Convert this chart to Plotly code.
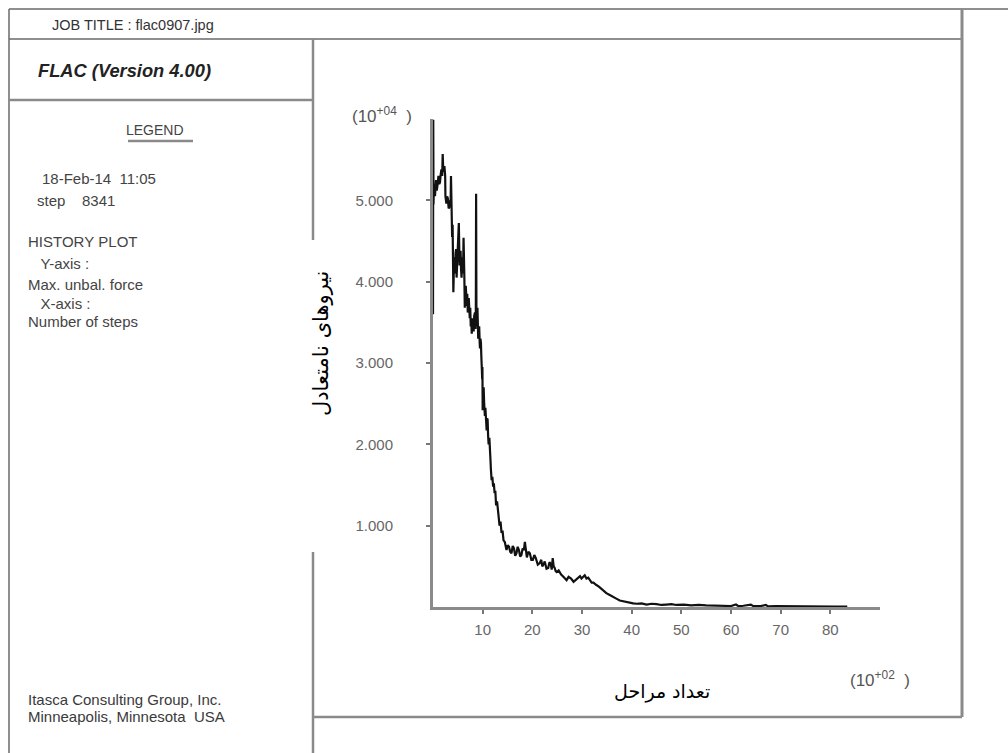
import plotly.graph_objects as go

W, H = 1008, 753

# History record: number of steps (x 10^2) against max. unbalanced force (x 10^4)
steps = [0.0, 0.05, 0.10, 0.20, 0.30, 0.40, 0.60, 0.75, 0.90, 1.10, 1.25, 1.40, 1.55, 1.70,
         1.85, 1.95, 2.05, 2.10, 2.30, 2.45, 2.50, 2.70, 2.85, 3.00, 3.15, 3.30, 3.45, 3.55,
         3.62, 3.70, 3.85, 3.95, 4.00, 4.10, 4.25, 4.35, 4.45, 4.55, 4.65, 4.75, 4.85, 4.95,
         5.05, 5.20, 5.35, 5.45, 5.55, 5.65, 5.75, 5.85, 5.95, 6.05, 6.15, 6.30, 6.40, 6.50,
         6.60, 6.70, 6.80, 6.90, 7.00, 7.10, 7.20, 7.30, 7.40, 7.50, 7.60, 7.70, 7.80, 7.90,
         8.00, 8.10, 8.20, 8.30, 8.45, 8.55, 8.62, 8.68, 8.75, 8.85, 8.95, 9.05, 9.10, 9.20,
         9.30, 9.40, 9.46, 9.55, 9.65, 9.72, 9.80, 9.85, 9.90, 9.95, 10.00, 10.10, 10.20,
         10.30, 10.45, 10.55, 10.65, 10.80, 10.90, 11.00, 11.10, 11.20, 11.35, 11.50, 11.58,
         11.65, 11.72, 11.80, 11.95, 12.10, 12.25, 12.40, 12.55, 12.70, 12.90, 13.10, 13.25,
         13.40, 13.60, 13.80, 14.00, 14.20, 14.45, 14.80, 15.05, 15.30, 15.55, 15.80, 16.05,
         16.30, 16.55, 16.80, 17.05, 17.30, 17.55, 17.80, 18.05, 18.30, 18.50, 18.70, 18.90,
         19.20, 19.50, 19.80, 20.10, 20.40, 20.70, 21.10, 21.50, 21.80, 22.00, 22.30, 22.50,
         22.85, 23.20, 23.45, 23.70, 23.90, 24.10, 24.30, 24.50, 24.70, 24.90, 25.30, 25.80,
         26.30, 26.90, 27.30, 27.80, 28.30, 28.90, 29.30, 29.60, 29.90, 30.20, 30.55, 30.90,
         31.25, 31.60, 31.95, 32.30, 32.60, 32.90, 33.40, 33.90, 34.40, 34.90, 35.50, 36.00,
         36.50, 37.00, 37.60, 38.30, 38.90, 39.60, 40.30, 41.00, 42.00, 43.00, 44.00, 45.00,
         46.00, 47.00, 48.00, 49.00, 50.50, 52.00, 53.50, 55.00, 56.50, 58.00, 59.00, 60.00,
         61.00, 61.50, 62.50, 64.00, 64.50, 66.00, 67.00, 67.50, 69.00, 71.00, 73.00, 75.00,
         77.00, 79.00, 81.00, 83.41]
unbal_force = [3.60, 5.99, 4.95, 5.20, 5.10, 5.05, 5.25, 5.12, 5.18, 5.30, 5.20, 5.22, 5.32, 5.38,
               5.30, 5.57, 5.40, 5.35, 5.42, 5.30, 5.05, 4.96, 5.05, 5.02, 4.90, 4.92, 5.00, 4.98,
               5.30, 4.85, 4.55, 4.70, 4.26, 3.87, 4.30, 4.15, 4.10, 4.35, 4.40, 4.05, 4.18, 4.30,
               4.35, 4.72, 4.20, 4.32, 4.38, 4.15, 4.05, 4.25, 4.30, 4.10, 4.54, 4.10, 3.68, 3.85,
               3.95, 3.75, 3.70, 3.85, 3.62, 3.72, 3.80, 3.60, 3.55, 3.68, 3.45, 3.55, 3.36, 3.48,
               3.55, 3.40, 3.40, 3.58, 3.62, 3.42, 3.50, 5.08, 3.45, 3.60, 3.68, 3.40, 3.30, 3.42,
               3.45, 3.25, 3.18, 3.30, 3.25, 3.10, 3.03, 2.90, 2.80, 2.95, 2.42, 2.60, 2.70,
               2.50, 2.35, 2.45, 2.25, 2.17, 2.32, 2.30, 2.10, 2.00, 2.08, 1.96, 1.80,
               1.70, 1.62, 1.56, 1.60, 1.48, 1.52, 1.40, 1.43, 1.25, 1.30, 1.19, 1.12,
               1.00, 1.05, 0.91, 0.94, 0.82, 0.80, 0.70, 0.76, 0.74, 0.68, 0.66, 0.75,
               0.72, 0.63, 0.66, 0.74, 0.70, 0.62, 0.64, 0.72, 0.70, 0.80, 0.66, 0.61,
               0.68, 0.66, 0.58, 0.58, 0.64, 0.60, 0.52, 0.54, 0.58, 0.50, 0.53, 0.56,
               0.47, 0.48, 0.55, 0.53, 0.46, 0.60, 0.50, 0.48, 0.44, 0.43, 0.45, 0.40,
               0.37, 0.33, 0.37, 0.35, 0.31, 0.34, 0.37, 0.38, 0.35, 0.37, 0.39, 0.35,
               0.36, 0.33, 0.30, 0.30, 0.28, 0.27, 0.25, 0.22, 0.20, 0.17, 0.15, 0.13,
               0.11, 0.10, 0.08, 0.07, 0.06, 0.05, 0.045, 0.04, 0.045, 0.03, 0.04, 0.035,
               0.025, 0.03, 0.035, 0.025, 0.03, 0.02, 0.025, 0.02, 0.02, 0.015, 0.02, 0.012,
               0.03, 0.01, 0.015, 0.03, 0.01, 0.012, 0.025, 0.008, 0.01, 0.008, 0.01, 0.006,
               0.008, 0.005, 0.006, 0.005]

x_ticks = [10, 20, 30, 40, 50, 60, 70, 80]
y_ticks = [1, 2, 3, 4, 5]
y_tick_text = ["1.000", "2.000", "3.000", "4.000", "5.000"]

legend_lines = ["18-Feb-14  11:05", "step    8341", "", "HISTORY PLOT", "   Y-axis :",
                "Max. unbal. force", "   X-axis :", "Number of steps"]


def px(x):
    return x / W


def py(y):
    return 1 - y / H


TXT = "Liberation Sans, Arial, sans-serif"
FRAME = "#8a8a8a"

fig = go.Figure()
fig.add_trace(go.Scatter(x=steps, y=unbal_force, mode="lines",
                         line=dict(color="#111111", width=2.2), showlegend=False,
                         hoverinfo="skip"))

# frame of the plot sheet
frame_lines = [
    # (x0, y0, x1, y1, colour, width)
    (9, 9, 1008, 9, "#6a6a6a", 1.5),
    (9, 39, 962, 39, "#6a6a6a", 1.5),
    (9, 9, 9, 753, "#6a6a6a", 1.5),
    (9, 100, 313, 100, FRAME, 2.5),
    (313, 39, 313, 240, FRAME, 2.5),
    (313, 552, 313, 753, FRAME, 2.5),
    (962, 9, 962, 717, FRAME, 3),
    (313, 717, 962, 717, FRAME, 2.5),
    (128, 141, 193, 141, FRAME, 2.5),
]
shapes = []
for x0, y0, x1, y1, c, w in frame_lines:
    shapes.append(dict(type="line", xref="paper", yref="paper",
                       x0=px(x0), y0=py(y0), x1=px(x1), y1=py(y1),
                       line=dict(color=c, width=w)))

ann = []


def label(x, y, text, size=15, color="#3c3c3c", anchor="left", family=TXT, **kw):
    ann.append(dict(x=px(x), y=py(y), xref="paper", yref="paper", text=text,
                    showarrow=False, xanchor=anchor, yanchor="middle",
                    font=dict(family=family, size=size, color=color), **kw))


label(50, 25, "JOB TITLE : flac0907.jpg", size=14.5, color="#333333")
label(36, 70, "<b><i>FLAC (Version 4.00)</i></b>", size=18.3, color="#222222")
label(155, 130, "LEGEND", size=14, color="#444444", anchor="center")
ly = [178, 200, 221, 242, 263, 284, 303, 321]
lx = [40, 35, 26, 26, 26, 26, 26, 26]
for t, x, y in zip(legend_lines, lx, ly):
    if t:
        label(x, y, t.replace(" ", "&nbsp;"), size=15, color="#444444")
label(26, 699, "Itasca Consulting Group, Inc.", size=15, color="#3a3a3a")
label(26, 716, "Minneapolis, Minnesota  USA", size=15, color="#3a3a3a")

# exponent markers of the axes
label(350, 115, "(10<sup>+04</sup>&nbsp;&nbsp;)", size=17, color="#555555")
label(848, 679, "(10<sup>+02</sup>&nbsp;&nbsp;)", size=17, color="#555555")

# axis titles
label(662, 691, "تعداد مراحل", size=19, color="#000000", anchor="center",
      family="DejaVu Sans")
ann.append(dict(x=px(321), y=py(344), xref="paper", yref="paper",
                text="نیروهای نامتعادل", showarrow=False, textangle=-90,
                xanchor="center", yanchor="middle",
                font=dict(family="DejaVu Sans", size=21, color="#000000")))

fig.update_layout(
    width=W, height=H, autosize=False,
    margin=dict(l=0, r=0, t=0, b=0),
    paper_bgcolor="white", plot_bgcolor="white",
    shapes=shapes, annotations=ann, showlegend=False,
    xaxis=dict(domain=[px(433), px(880)], range=[0, 90], showgrid=False,
               zeroline=False, showline=True, linecolor=FRAME, linewidth=3,
               ticks="outside", ticklen=4, tickwidth=1.5, tickcolor="#777777",
               tickvals=x_ticks, ticklabelstandoff=3, automargin=False,
               tickfont=dict(family=TXT, size=15, color="#666666")),
    yaxis=dict(domain=[py(607), py(119)], range=[0, 6], showgrid=False,
               zeroline=False, showline=True, linecolor=FRAME, linewidth=3,
               ticks="outside", ticklen=4, tickwidth=1.5, tickcolor="#777777",
               tickvals=y_ticks, ticktext=y_tick_text, ticklabelstandoff=30,
               automargin=False,
               tickfont=dict(family=TXT, size=15, color="#666666")),
)

fig.write_html("out.html")
